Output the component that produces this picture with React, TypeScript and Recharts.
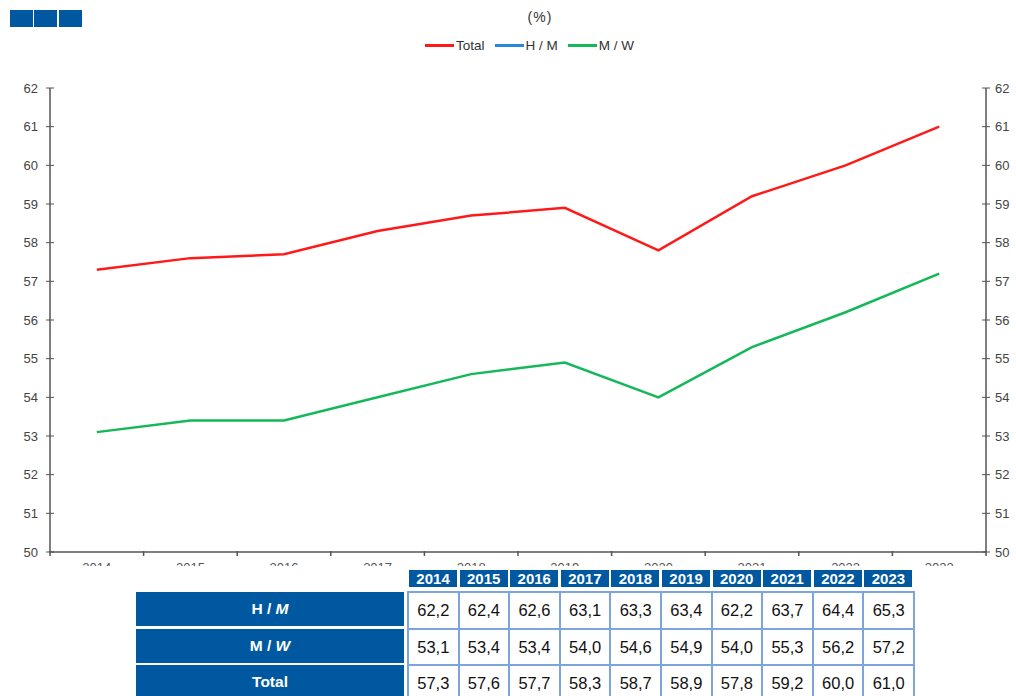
import React from "react";
import { LineChart, Line, XAxis, YAxis } from "recharts";

const years = ["2014", "2015", "2016", "2017", "2018", "2019", "2020", "2021", "2022", "2023"];
const hmValues = [62.2, 62.4, 62.6, 63.1, 63.3, 63.4, 62.2, 63.7, 64.4, 65.3];
const mwValues = [53.1, 53.4, 53.4, 54.0, 54.6, 54.9, 54.0, 55.3, 56.2, 57.2];
const totalValues = [57.3, 57.6, 57.7, 58.3, 58.7, 58.9, 57.8, 59.2, 60.0, 61.0];
const yTicks = [50, 51, 52, 53, 54, 55, 56, 57, 58, 59, 60, 61, 62];
const xBoundaries = [0, 1, 2, 3, 4, 5, 6, 7, 8, 9, 10];

const data = years.map((y, i) => ({
  pos: i + 0.5,
  year: y,
  hm: hmValues[i],
  mw: mwValues[i],
  total: totalValues[i],
}));

const tableRows = [
  { label: ["H / ", "M"], values: hmValues },
  { label: ["M / ", "W"], values: mwValues },
  { label: ["Total", ""], values: totalValues },
];

const FONT = "'Liberation Sans', Arial, sans-serif";
const BLUE = "#0059A0";
const RED = "#FF1A1A";
const GREEN = "#14B85A";
const HMBLUE = "#2A86D6";
const AXIS = "#555555";
const HALF_BAND = 46.8;

const fmt = (v: number) => v.toFixed(1).replace(".", ",");

const LeftTick = (props: any) => {
  const { x, y, payload } = props;
  return (
    <g>
      <line x1={x - 4} x2={x + 4} y1={y} y2={y} stroke={AXIS} strokeWidth={1} />
      <text x={x - 12} y={y + 4.5} textAnchor="end" fontSize={13} fill="#444" fontFamily={FONT}>
        {payload.value}
      </text>
    </g>
  );
};

const RightTick = (props: any) => {
  const { x, y, payload } = props;
  return (
    <g>
      <line x1={x - 4} x2={x + 4} y1={y} y2={y} stroke={AXIS} strokeWidth={1} />
      <text x={x + 9} y={y + 4.5} textAnchor="start" fontSize={13} fill="#444" fontFamily={FONT}>
        {payload.value}
      </text>
    </g>
  );
};

const XTick = (props: any) => {
  const { x, y, payload } = props;
  const idx = payload.value as number;
  return (
    <g>
      <line x1={x} x2={x} y1={y - 1} y2={y + 4} stroke={AXIS} strokeWidth={1.5} />
      {idx < years.length && (
        <text x={x + HALF_BAND} y={y + 20} textAnchor="middle" fontSize={13} fill="#555" fontFamily={FONT}>
          {years[idx]}
        </text>
      )}
    </g>
  );
};

const legendItems = [
  { name: "Total", color: RED },
  { name: "H / M", color: HMBLUE },
  { name: "M / W", color: GREEN },
];

export default function App() {
  const colLeft = 407;
  const colW = 50.6;
  const rowTop = 591;
  const rowH = 36.7;
  return (
    <div
      style={{
        position: "absolute",
        left: 0,
        top: 0,
        width: 1016,
        height: 696,
        overflow: "hidden",
        background: "#fff",
        fontFamily: FONT,
      }}
    >
      {[0, 1, 2].map((i) => (
        <div
          key={i}
          style={{
            position: "absolute",
            left: 10 + i * 24.3,
            top: 10,
            width: 23,
            height: 17,
            background: BLUE,
          }}
        />
      ))}
      <div
        style={{
          position: "absolute",
          left: 490,
          width: 100,
          top: 9,
          textAlign: "center",
          fontSize: 14,
          color: "#333",
          letterSpacing: 1,
        }}
      >
        (%)
      </div>
      <div
        style={{
          position: "absolute",
          left: 425,
          top: 38,
          display: "flex",
          alignItems: "center",
          fontSize: 13.5,
          color: "#333",
        }}
      >
        {legendItems.map((it) => (
          <div key={it.name} style={{ display: "flex", alignItems: "center", marginRight: 10 }}>
            <div style={{ width: 29, height: 3, background: it.color, marginRight: 2 }} />
            <span>{it.name}</span>
          </div>
        ))}
      </div>

      <div style={{ position: "absolute", left: 0, top: 0 }}>
        <LineChart width={1016} height={696} data={data} margin={{ top: 88, right: 0, bottom: 114, left: 0 }}>
          <XAxis
            dataKey="pos"
            type="number"
            domain={[0, 10]}
            ticks={xBoundaries}
            interval={0}
            tick={<XTick />}
            tickLine={false}
            tickSize={0}
            tickMargin={0}
            height={30}
            axisLine={{ stroke: AXIS, strokeWidth: 1.5 }}
          />
          <YAxis
            yAxisId="left"
            orientation="left"
            domain={[50, 62]}
            ticks={yTicks}
            interval={0}
            allowDataOverflow
            width={50}
            tick={<LeftTick />}
            tickLine={false}
            tickSize={0}
            tickMargin={0}
            axisLine={{ stroke: AXIS, strokeWidth: 1.5 }}
          />
          <YAxis
            yAxisId="right"
            orientation="right"
            domain={[50, 62]}
            ticks={yTicks}
            interval={0}
            allowDataOverflow
            width={30}
            tick={<RightTick />}
            tickLine={false}
            tickSize={0}
            tickMargin={0}
            axisLine={{ stroke: AXIS, strokeWidth: 1.5 }}
          />
          <Line yAxisId="left" dataKey="hm" stroke={HMBLUE} strokeWidth={2.5} dot={false} isAnimationActive={false} />
          <Line yAxisId="left" dataKey="mw" stroke={GREEN} strokeWidth={2.5} dot={false} isAnimationActive={false} />
          <Line yAxisId="left" dataKey="total" stroke={RED} strokeWidth={2.5} dot={false} isAnimationActive={false} />
        </LineChart>
      </div>

      <div style={{ position: "absolute", left: 0, top: 566, width: 1016, height: 130, background: "#fff" }} />

      {years.map((y, c) => (
        <div
          key={y}
          style={{
            position: "absolute",
            left: colLeft + 2 + c * colW,
            top: 570,
            width: colW - 2.5,
            height: 17,
            background: BLUE,
            color: "#fff",
            fontWeight: "bold",
            fontSize: 15,
            lineHeight: "17px",
            textAlign: "center",
          }}
        >
          {y}
        </div>
      ))}
      {tableRows.map((r, ri) => (
        <div
          key={ri}
          style={{
            position: "absolute",
            left: 136,
            top: rowTop + 1 + ri * rowH,
            width: 268,
            height: rowH - 2.5,
            background: BLUE,
            color: "#fff",
            fontWeight: "bold",
            fontSize: 15.5,
            lineHeight: `${rowH - 2.5}px`,
            textAlign: "center",
          }}
        >
          {r.label[0]}
          {r.label[1] && <i>{r.label[1]}</i>}
        </div>
      ))}
      {tableRows.map((r, ri) =>
        r.values.map((v, c) => (
          <div
            key={`${ri}-${c}`}
            style={{
              position: "absolute",
              boxSizing: "border-box",
              left: colLeft + c * colW,
              top: rowTop + ri * rowH,
              width: colW + 2,
              height: rowH + 2,
              border: "2px solid #7BA5DC",
              color: "#111",
              fontSize: 16.5,
              lineHeight: `${rowH - 2}px`,
              textAlign: "center",
              background: "#fff",
            }}
          >
            {fmt(v)}
          </div>
        ))
      )}
    </div>
  );
}
